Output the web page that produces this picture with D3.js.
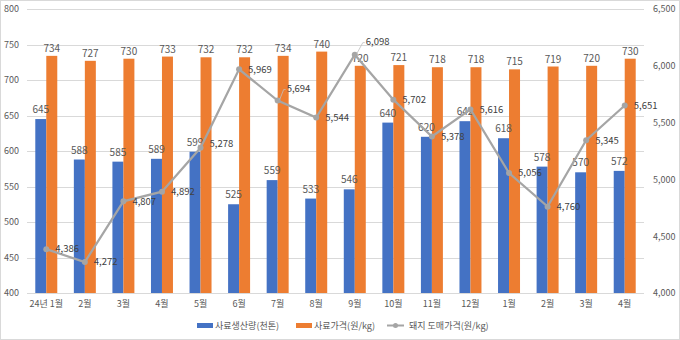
<!DOCTYPE html>
<html><head><meta charset="utf-8">
<script src="https://cdn.jsdelivr.net/npm/d3@7"></script>
<style>body{margin:0;background:#fff}svg{display:block;font-family:"Noto Sans CJK KR","Noto Sans",sans-serif}</style>
</head><body><svg id="c" width="680" height="340"></svg>
<script>
const categories = ["24년 1월","2월","3월","4월","5월","6월","7월","8월","9월","10월","11월","12월","1월","2월","3월","4월"];
const production = [645,588,585,589,599,525,559,533,546,640,620,642,618,578,570,572];
const feedPrice = [734,727,730,733,732,732,734,740,720,721,718,718,715,719,720,730];
const pigPrice = [4386,4272,4807,4892,5278,5969,5694,5544,6098,5702,5378,5616,5056,4760,5345,5651];
const leftTicks = [400,450,500,550,600,650,700,750,800];
const rightTicks = [4000,4500,5000,5500,6000,6500];
const seriesNames = ["사료생산량(천톤)","사료가격(원/kg)","돼지 도매가격(원/kg)"];
const colors = ["#4472C4","#ED7D31","#A5A5A5"];

const svg = d3.select("#c");
const W=680,H=340, L=27, R=644, T=9, B=293;
svg.append("rect").attr("x",0.5).attr("y",0.5).attr("width",W-1).attr("height",H-1).attr("fill","#fff").attr("stroke","#d9d9d9");

const x = d3.scaleBand().domain(d3.range(categories.length)).range([L,R]);
const xi = d3.scaleBand().domain([0,1]).range([0, x.bandwidth()*0.57]);
const yL = d3.scaleLinear().domain([400,800]).range([B,T]);
const yR = d3.scaleLinear().domain([4000,6500]).range([B,T]);

// grid
svg.append("g").selectAll("line").data(leftTicks).join("line")
  .attr("x1",L).attr("x2",R).attr("y1",d=>Math.round(yL(d))+0.5).attr("y2",d=>Math.round(yL(d))+0.5)
  .attr("stroke","#d9d9d9").attr("stroke-width",1);

// left axis
const gl = svg.append("g").attr("transform",`translate(19,0)`)
  .call(d3.axisLeft(yL).tickValues(leftTicks).tickSize(0).tickPadding(0));
gl.select(".domain").remove();
gl.selectAll("text").attr("fill","#595959").style("font-size","9px").style("font-family",'"Noto Sans CJK KR",sans-serif');

// right axis
const gr = svg.append("g").attr("transform",`translate(653,0)`)
  .call(d3.axisRight(yR).tickValues(rightTicks).tickSize(0).tickPadding(0).tickFormat(d3.format(",")));
gr.select(".domain").remove();
gr.selectAll("text").attr("fill","#595959").style("font-size","9px").style("font-family",'"Noto Sans CJK KR",sans-serif');

// bottom axis
const gb = svg.append("g").attr("transform",`translate(0,${B})`)
  .call(d3.axisBottom(x).tickSize(0).tickPadding(8).tickFormat(i=>categories[i]));
gb.select(".domain").remove();
gb.selectAll("text").attr("fill","#595959").style("font-size","9px").style("font-family",'"Noto Sans CJK KR",sans-serif');

const off = (x.bandwidth() - x.bandwidth()*0.57)/2;
const grp = svg.append("g");
const idx = d3.range(categories.length);
// bars
grp.selectAll(".b1").data(idx).join("rect")
  .attr("x",i=>x(i)+off+xi(0)).attr("width",xi.bandwidth())
  .attr("y",i=>yL(production[i])).attr("height",i=>B-yL(production[i])).attr("fill",colors[0]);
grp.selectAll(".b2").data(idx).join("rect")
  .attr("x",i=>x(i)+off+xi(1)).attr("width",xi.bandwidth())
  .attr("y",i=>yL(feedPrice[i])).attr("height",i=>B-yL(feedPrice[i])).attr("fill",colors[1]);

const lblStyle = s => s.attr("fill","#595959").style("font-size","10px").attr("text-anchor","middle");
grp.selectAll(".l1").data(idx).join("text")
  .attr("x",i=>x(i)+off+xi(0)+xi.bandwidth()/2).attr("y",i=>yL(production[i])-6)
  .text(i=>production[i]).call(lblStyle);
grp.selectAll(".l2").data(idx).join("text")
  .attr("x",i=>x(i)+off+xi(1)+xi.bandwidth()/2).attr("y",i=>yL(feedPrice[i])-4)
  .text(i=>feedPrice[i]).call(lblStyle);

// line
const cx = i=>x(i)+x.bandwidth()/2;
svg.append("path").datum(idx).attr("fill","none").attr("stroke",colors[2]).attr("stroke-width",2.2)
  .attr("d",d3.line().x(cx).y(i=>yR(pigPrice[i])));
svg.append("g").selectAll("circle").data(idx).join("circle")
  .attr("cx",cx).attr("cy",i=>yR(pigPrice[i])).attr("r",3).attr("fill",colors[2]);

const lo = {6:{dx:9,dy:-12,leader:true},8:{dx:11,dy:-13,leader:true},4:{dx:9,dy:-4}};
const lg = svg.append("g");
idx.forEach(i=>{
  const o = lo[i]||{dx:9,dy:0};
  const px=cx(i), py=yR(pigPrice[i]);
  if(o.leader){
    lg.append("path").attr("d",`M${px+2},${py-1}L${px+o.dx-3},${py+o.dy+1}L${px+o.dx-1},${py+o.dy+1}`)
      .attr("fill","none").attr("stroke","#bfbfbf").attr("stroke-width",0.8);
  }
  lg.append("text").attr("x",px+o.dx).attr("y",py+o.dy).attr("dy","0.35em")
    .attr("fill","#404040").style("font-size","9.5px").text(d3.format(",")(pigPrice[i]));
});

// legend
const leg = svg.append("g").style("font-size","9px");
leg.append("rect").attr("x",197).attr("y",323).attr("width",16).attr("height",5).attr("fill",colors[0]);
leg.append("text").attr("x",215).attr("y",326).attr("dy","0.35em").attr("fill","#595959").text(seriesNames[0]);
leg.append("rect").attr("x",296).attr("y",323).attr("width",16).attr("height",5).attr("fill",colors[1]);
leg.append("text").attr("x",314).attr("y",326).attr("dy","0.35em").attr("fill","#595959").text(seriesNames[1]);
leg.append("line").attr("x1",387).attr("x2",404).attr("y1",325.5).attr("y2",325.5).attr("stroke",colors[2]).attr("stroke-width",2);
leg.append("circle").attr("cx",395.5).attr("cy",325.5).attr("r",2.5).attr("fill",colors[2]);
leg.append("text").attr("x",409).attr("y",326).attr("dy","0.35em").attr("fill","#595959").text(seriesNames[2]);
</script></body></html>
